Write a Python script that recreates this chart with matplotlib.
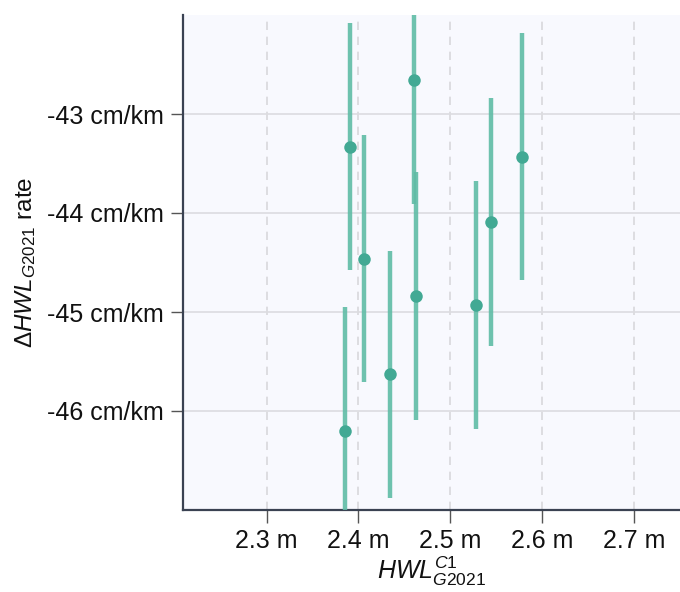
import matplotlib
matplotlib.use("Agg")
import matplotlib.pyplot as plt
from matplotlib.ticker import FuncFormatter

# Data
hwl_c1 = [2.391, 2.406, 2.460, 2.463, 2.385, 2.434, 2.528, 2.544, 2.578]
dhwl_rate = [-43.33, -44.46, -42.66, -44.84, -46.20, -45.63, -44.93, -44.09, -43.43]
rate_err = [1.25, 1.25, 1.25, 1.25, 1.25, 1.25, 1.25, 1.25, 1.25]
x_ticks = [2.3, 2.4, 2.5, 2.6, 2.7]
y_ticks = [-46, -45, -44, -43]

plt.rcParams['font.family'] = ['Liberation Sans', 'DejaVu Sans']
plt.rcParams['mathtext.fontset'] = 'custom'
plt.rcParams['mathtext.rm'] = 'Liberation Sans'
plt.rcParams['mathtext.it'] = 'Liberation Sans:italic'
plt.rcParams['mathtext.bf'] = 'Liberation Sans:bold'

fig = plt.figure(figsize=(6.8, 5.92), dpi=100)
ax = fig.add_axes([183/680, 1 - 510/592, 1 - 183/680, (510 - 15)/592])
ax.set_facecolor('#f8f9fe')

ax.errorbar(hwl_c1, dhwl_rate, yerr=rate_err, fmt='none', ecolor='#5fbca6',
            elinewidth=3.2, alpha=0.9, capsize=0, zorder=3)
ax.plot(hwl_c1, dhwl_rate, 'o', color='#42a994', markersize=9, zorder=4,
        markeredgewidth=0)

ax.set_xlim(2.209, 2.75)
ax.set_ylim(-47.0, -42.0)
ax.set_xticks(x_ticks)
ax.set_yticks(y_ticks)
ax.xaxis.set_major_formatter(FuncFormatter(lambda v, p: f"{v:.1f} m"))
ax.yaxis.set_major_formatter(FuncFormatter(lambda v, p: f"{v:.0f} cm/km"))

ax.grid(axis='x', color='#d8d8dc', linestyle=(0, (5, 4)), linewidth=1.2, zorder=0)
ax.grid(axis='y', color='#dcdce0', linestyle='-', linewidth=1.2, zorder=0)
ax.set_axisbelow(True)

for s in ['top', 'right']:
    ax.spines[s].set_visible(False)
for s in ['left', 'bottom']:
    ax.spines[s].set_color('#3a4252')
    ax.spines[s].set_linewidth(1.6)

ax.tick_params(axis='both', length=9, width=1, color='#555555',
               labelsize=18, labelcolor='#111111')
ax.tick_params(axis='y', pad=5)
ax.tick_params(axis='x', pad=5)

ax.set_xlabel(r'$HWL^{C1}_{G2021}$', fontsize=18, color='#111111', labelpad=1)
ax.set_ylabel(r'$\mathit{\Delta HWL}_{G2021}$ rate', fontsize=17.5, color='#111111', labelpad=6)

fig.savefig('out.png', dpi=100)
